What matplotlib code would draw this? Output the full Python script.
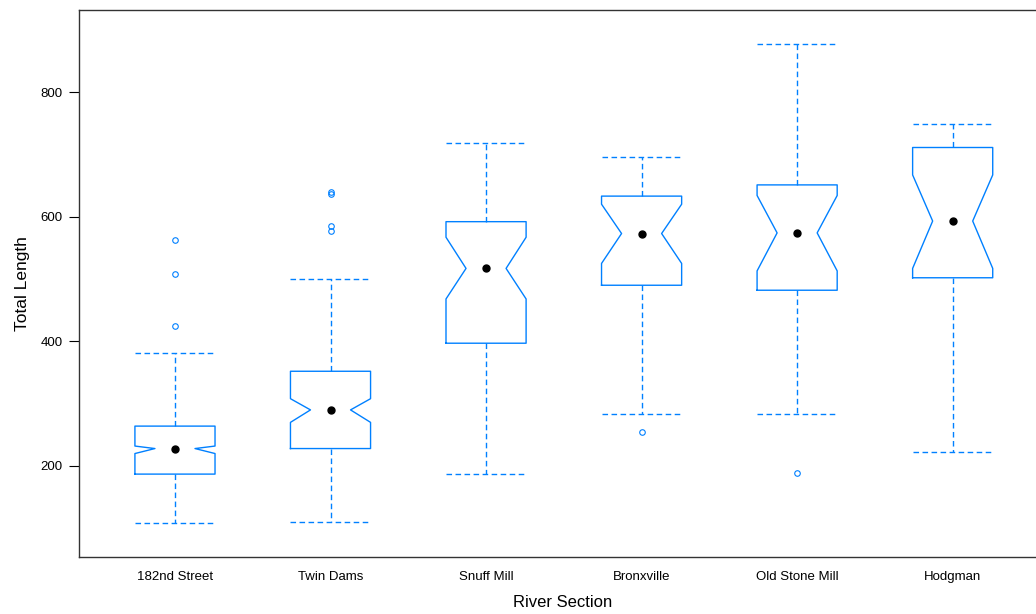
import matplotlib
matplotlib.use("Agg")
import matplotlib.pyplot as plt

plt.rcParams['font.family'] = ['Liberation Sans', 'DejaVu Sans']

sections = ["182nd Street", "Twin Dams", "Snuff Mill", "Bronxville", "Old Stone Mill", "Hodgman"]
q1 = [187, 228, 397, 490, 482, 502]
med = [228, 290, 517, 573, 574, 593]
q3 = [264, 352, 592, 633, 651, 711]
whislo = [109, 110, 187, 283, 283, 223]
whishi = [381, 500, 718, 695, 877, 749]
cilo = [220, 270, 468, 525, 513, 517]
cihi = [232, 308, 567, 620, 634, 667]
fliers = [[424, 508, 562], [577, 585, 637, 640], [], [254], [189], []]

blue = "#0080ff"

stats = []
for i, name in enumerate(sections):
    stats.append(dict(label=name, med=med[i], q1=q1[i], q3=q3[i],
                      whislo=whislo[i], whishi=whishi[i],
                      cilo=cilo[i], cihi=cihi[i], fliers=fliers[i]))

fig = plt.figure(figsize=(10.36, 6.14), dpi=100)
ax = fig.add_axes([79 / 1036, 57 / 614, (1046 - 79) / 1036, (557 - 10) / 614])

pos = list(range(1, len(sections) + 1))
dash = (0, (4, 2.5))
ax.bxp(stats, positions=pos, widths=0.515, shownotches=True, capwidths=0.515,
       boxprops=dict(color=blue, linewidth=1),
       whiskerprops=dict(color=blue, linewidth=1, linestyle=dash),
       capprops=dict(color=blue, linewidth=1, linestyle=dash),
       medianprops=dict(visible=False),
       flierprops=dict(marker='o', markersize=4, markerfacecolor='none',
                       markeredgecolor=blue, markeredgewidth=0.8))
ax.plot(pos, med, 'o', color='black', markersize=5, zorder=5)

ax.set_xlim(0.383, 6.6)
ax.set_ylim(54, 931.6)
ax.set_yticks([200, 400, 600, 800])
ax.set_xticks(pos)
ax.set_xticklabels(sections)
ax.tick_params(axis='x', length=0, pad=10, labelsize=9.5)
ax.tick_params(axis='y', length=7, pad=5, labelsize=9.5, width=0.8)
for s in ['left', 'bottom', 'top']:
    ax.spines[s].set_color('#333333')
    ax.spines[s].set_linewidth(1)
ax.spines['right'].set_visible(False)

ax.set_xlabel("River Section", fontsize=12, labelpad=9)
ax.set_ylabel("Total Length", fontsize=12.5, labelpad=7)

fig.savefig("out.png", dpi=100)
